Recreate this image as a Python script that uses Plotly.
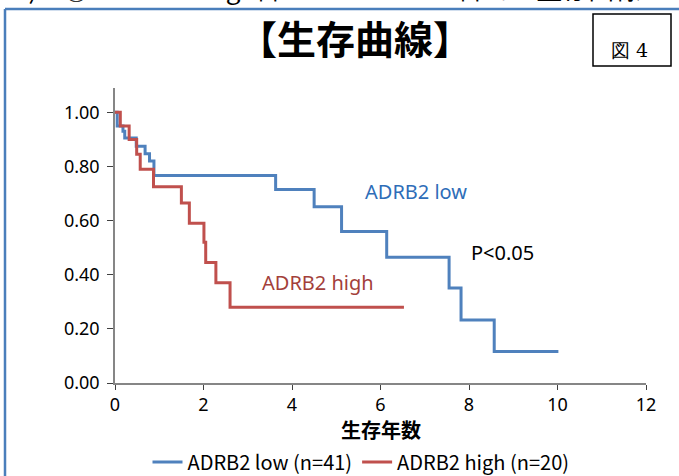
import plotly.graph_objects as go

# ---- data ----
low_time = [0, 0.05, 0.18, 0.22, 0.48, 0.68, 0.78, 0.88, 3.63, 4.50, 5.12, 6.14, 7.55, 7.82, 8.57, 10.02]
low_surv = [1.0, 0.95, 0.93, 0.905, 0.875, 0.847, 0.82, 0.767, 0.715, 0.651, 0.56, 0.465, 0.351, 0.233, 0.116, 0.116]

high_time = [0, 0.12, 0.32, 0.49, 0.57, 0.87, 1.50, 1.68, 2.01, 2.05, 2.28, 2.60, 6.53]
high_surv = [1.0, 0.95, 0.90, 0.845, 0.79, 0.725, 0.665, 0.59, 0.52, 0.445, 0.37, 0.28, 0.28]

series_names = ["ADRB2 low (n=41)", "ADRB2 high (n=20)"]
x_ticks = [0, 2, 4, 6, 8, 10, 12]
y_ticks = [0.0, 0.2, 0.4, 0.6, 0.8, 1.0]
y_tick_labels = ["0.00", "0.20", "0.40", "0.60", "0.80", "1.00"]
x_title = "生存年数"

BLUE = "#4F81BD"
RED = "#C0504D"
SANS = "Noto Sans, Liberation Sans, sans-serif"
CJK = "Noto Sans CJK JP, sans-serif"

fig = go.Figure()
fig.add_trace(go.Scatter(x=low_time, y=low_surv, mode="lines", line=dict(color=BLUE, width=3, shape="hv"),
                         name=series_names[0]))
fig.add_trace(go.Scatter(x=high_time, y=high_surv, mode="lines", line=dict(color=RED, width=3, shape="hv"),
                         name=series_names[1]))

axis_color = "#868686"
fig.update_xaxes(range=[0, 12], tickvals=x_ticks, showgrid=False, zeroline=False, automargin=False,
                 showline=True, linecolor=axis_color, linewidth=1.5,
                 ticks="outside", ticklen=5, tickcolor="#404040",
                 tickfont=dict(family=SANS, size=18, color="#000000"))
fig.update_yaxes(range=[0, 1.09], tickvals=y_ticks, ticktext=y_tick_labels, showgrid=False, zeroline=False,
                 automargin=False,
                 showline=True, linecolor=axis_color, linewidth=1.5,
                 ticks="outside", ticklen=6, tickcolor="#404040", ticklabelstandoff=4,
                 tickfont=dict(family=SANS, size=18, color="#000000"))

def px_x(px):
    return (px - 115) / 531.0

def px_y(py):
    return (383 - py) / 295.0

shapes = [
    # outer blue frame (top and left)
    dict(type="line", xref="paper", yref="paper", x0=px_x(5), x1=px_x(679), y0=px_y(9), y1=px_y(9),
         line=dict(color="#4A7EBB", width=2.5)),
    dict(type="line", xref="paper", yref="paper", x0=px_x(5), x1=px_x(5), y0=px_y(9), y1=px_y(476),
         line=dict(color="#4A7EBB", width=2.5)),
    # figure number box
    dict(type="rect", xref="paper", yref="paper", x0=px_x(593), x1=px_x(671), y0=px_y(66), y1=px_y(14),
         line=dict(color="#000000", width=1.5), fillcolor="rgba(0,0,0,0)"),
]

annotations = [
    dict(text="2)　①　ADRB2 high群 vs. ADRB2 low群での生存曲線", xref="paper", yref="paper",
         x=px_x(12), y=px_y(-13), xanchor="left", yanchor="middle", showarrow=False,
         font=dict(family=CJK, size=26, color="#000000")),
    dict(text="<b>【生存曲線】</b>", xref="paper", yref="paper", x=px_x(355), y=px_y(37),
         xanchor="center", yanchor="middle", showarrow=False,
         font=dict(family=CJK, size=39, color="#000000")),
    dict(text="図 4", xref="paper", yref="paper", x=px_x(629), y=px_y(50),
         xanchor="center", yanchor="middle", showarrow=False,
         font=dict(family="DejaVu Serif, serif", size=19, color="#000000")),
    dict(text="<b>" + x_title + "</b>", xref="paper", yref="paper", x=0.5, y=px_y(429),
         xanchor="center", yanchor="middle", showarrow=False,
         font=dict(family=CJK, size=20, color="#000000")),
    dict(text="ADRB2 low", x=6.80, y=0.707, xref="x", yref="y", showarrow=False,
         font=dict(family=SANS, size=20, color="#2E6DB8")),
    dict(text="ADRB2 high", x=4.58, y=0.37, xref="x", yref="y", showarrow=False,
         font=dict(family=SANS, size=20, color="#A33F3B")),
    dict(text="P<0.05", x=8.75, y=0.481, xref="x", yref="y", showarrow=False,
         font=dict(family=SANS, size=20, color="#000000")),
]

fig.update_layout(
    width=679, height=476,
    margin=dict(l=115, r=33, t=88, b=93),
    paper_bgcolor="#FFFFFF", plot_bgcolor="#FFFFFF",
    showlegend=True,
    legend=dict(orientation="h", xref="container", yref="container",
                x=361 / 679, xanchor="center", y=(476 - 462) / 476, yanchor="middle",
                font=dict(family=CJK, size=20, color="#000000"),
                bgcolor="rgba(0,0,0,0)", tracegroupgap=0),
    shapes=shapes,
    annotations=annotations,
)

fig.write_html("out.html")
